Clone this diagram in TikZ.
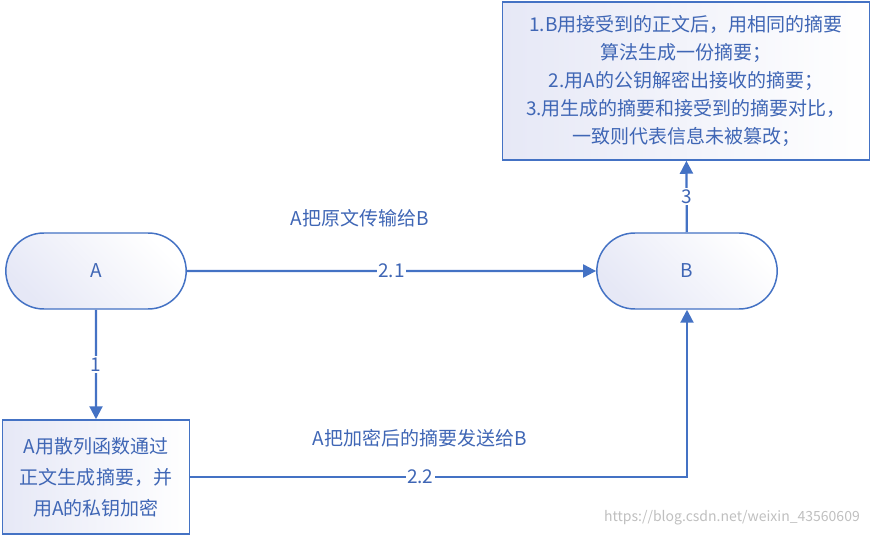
\documentclass[tikz,border=0pt]{standalone}
\usepackage{fontspec}
\setmainfont{Noto Sans CJK SC}
\usetikzlibrary{arrows.meta,shapes.misc}
\definecolor{lb}{HTML}{4472C4}
\definecolor{tx}{HTML}{3F66B5}
\definecolor{fillA}{HTML}{E6E8F6}
\tikzset{
  every node/.style={text=tx,font=\fontsize{19bp}{28bp}\selectfont},
  term/.style={draw=lb,line width=1.5pt,rounded rectangle,minimum width=187bp,minimum height=76bp,left color=fillA,right color=white,shading angle=135},
  box/.style={draw=lb,line width=1.5pt,rectangle,align=center,left color=fillA,right color=white,inner sep=1pt},
  conn/.style={draw=lb,line width=2.2pt,-{Triangle[length=13bp,width=13bp]}},
  lbl/.style={fill=white,inner sep=1.5pt}
}
\begin{document}
\begin{tikzpicture}[x=1bp,y=-1bp]
\useasboundingbox (0,0) rectangle (877,536);
\node[term] (A) at (96,271) {A};
\node[term] (B) at (687,271) {B};
\node[box,minimum width=367bp,minimum height=158bp,text width=365bp] (T) at (686,81) {1.B用接受到的正文后，用相同的摘要\\算法生成一份摘要；\\2.用A的公钥解密出接收的摘要；\\3.用生成的摘要和接受到的摘要对比，\\一致则代表信息未被篡改；};
\node[box,minimum width=187bp,minimum height=114bp,text width=185bp,font=\fontsize{19bp}{31bp}\selectfont] (C) at (96,477) {A用散列函数通过\\正文生成摘要，并\\用A的私钥加密};
\draw[conn] (A) -- node[lbl]{2.1} (B);
\draw[conn] (A) -- node[lbl]{1} (C);
\draw[conn] (B) -- node[lbl]{3} (T);
\coordinate (k) at (B.south |- C.east);
\draw[conn] (C.east) -- node[lbl,pos=0.463]{2.2} (k) -- (B.south);
\node (t1) at (360,218) {A把原文传输给B};
\node (t2) at (420,438) {A把加密后的摘要发送给B};
\node[text=black!25,font=\fontsize{14bp}{14bp}\selectfont] (w) at (732,518) {https://blog.csdn.net/weixin\_43560609};
\end{tikzpicture}
\end{document}
